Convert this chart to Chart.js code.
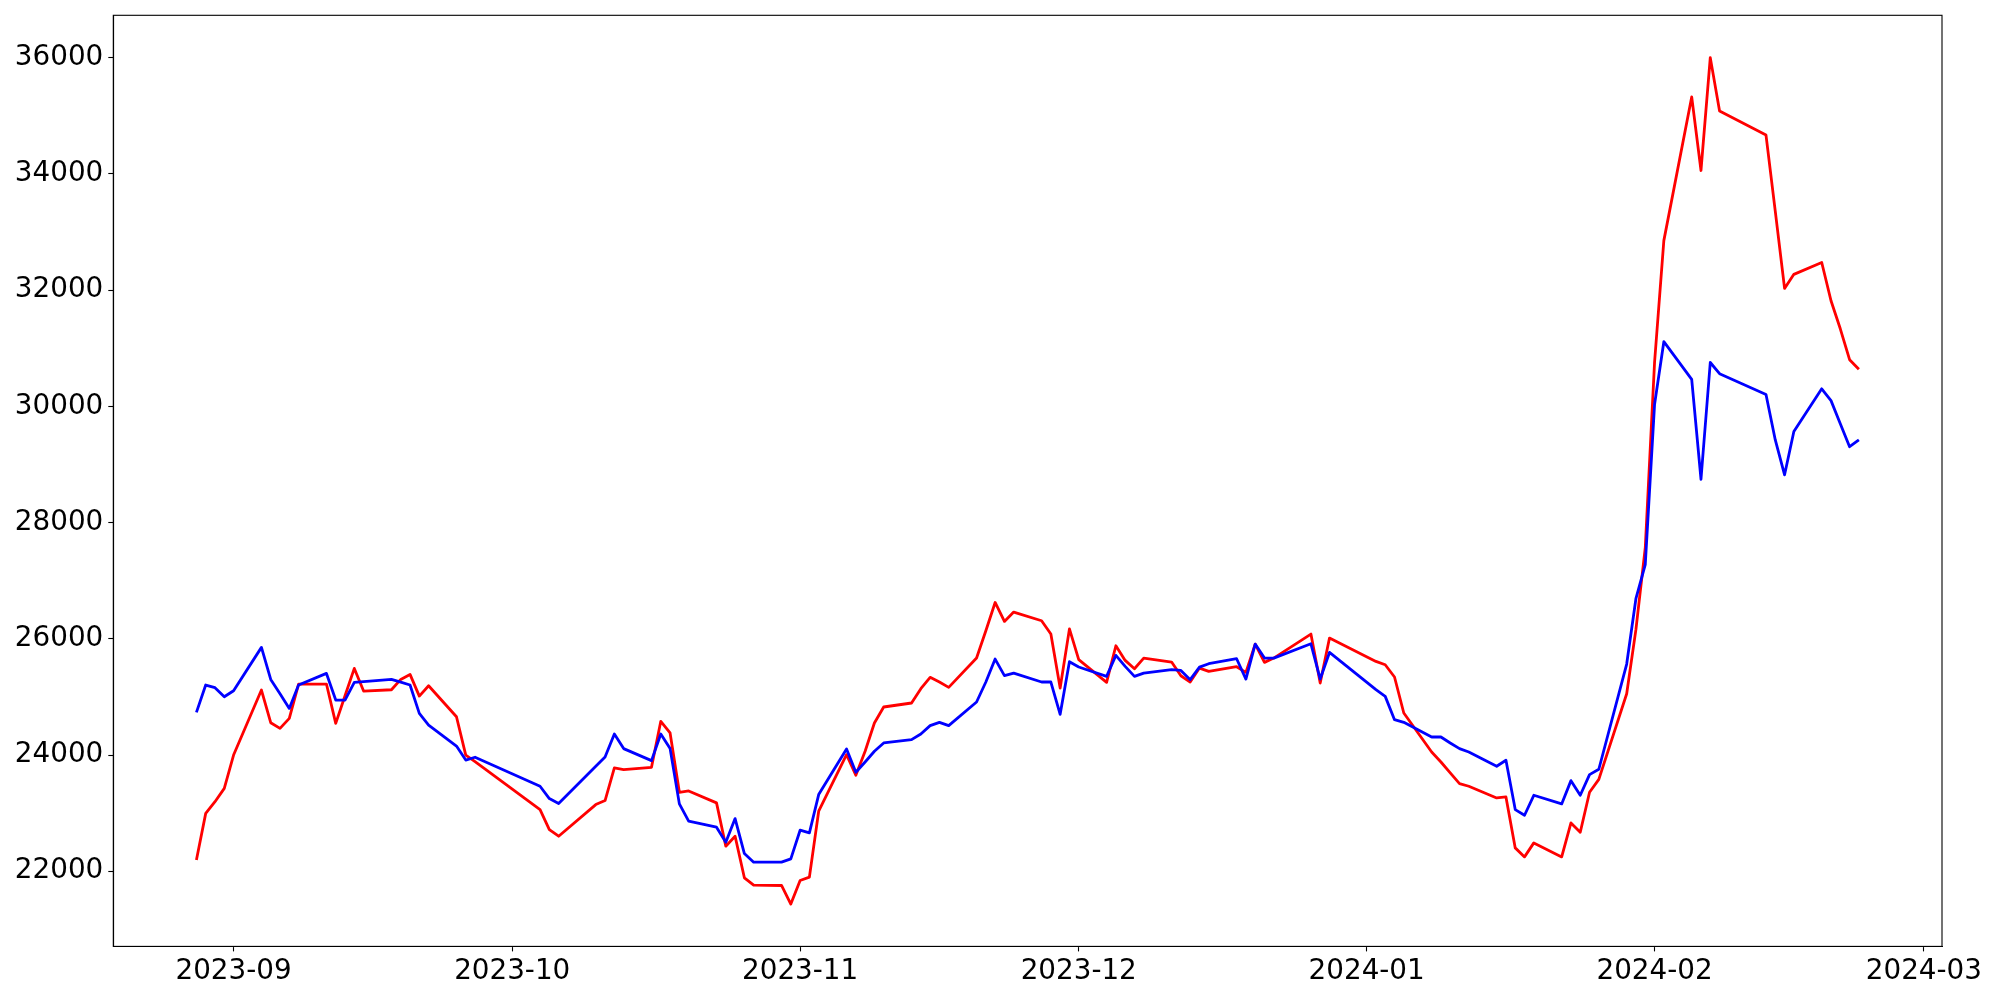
<!DOCTYPE html>
<html>
<head>
<meta charset="utf-8">
<script src="https://cdn.jsdelivr.net/npm/chart.js@4/dist/chart.umd.min.js"></script>
<style>
  html, body { margin: 0; padding: 0; background: #fff; }
  canvas { display: block; }
</style>
</head>
<body>
<canvas id="chart" width="2000" height="1000"></canvas>
<script>
// trading days (KRX calendar: Chuseok, Hangul day, year end and Seollal closed)
const dates = [
  "2023-08-28","2023-08-29","2023-08-30","2023-08-31","2023-09-01",
  "2023-09-04","2023-09-05","2023-09-06","2023-09-07","2023-09-08",
  "2023-09-11","2023-09-12","2023-09-13","2023-09-14","2023-09-15",
  "2023-09-18","2023-09-19","2023-09-20","2023-09-21","2023-09-22",
  "2023-09-25","2023-09-26","2023-09-27",
  "2023-10-04","2023-10-05","2023-10-06",
  "2023-10-10","2023-10-11","2023-10-12","2023-10-13",
  "2023-10-16","2023-10-17","2023-10-18","2023-10-19","2023-10-20",
  "2023-10-23","2023-10-24","2023-10-25","2023-10-26","2023-10-27",
  "2023-10-30","2023-10-31","2023-11-01","2023-11-02","2023-11-03",
  "2023-11-06","2023-11-07","2023-11-08","2023-11-09","2023-11-10",
  "2023-11-13","2023-11-14","2023-11-15","2023-11-16","2023-11-17",
  "2023-11-20","2023-11-21","2023-11-22","2023-11-23","2023-11-24",
  "2023-11-27","2023-11-28","2023-11-29","2023-11-30","2023-12-01",
  "2023-12-04","2023-12-05","2023-12-06","2023-12-07","2023-12-08",
  "2023-12-11","2023-12-12","2023-12-13","2023-12-14","2023-12-15",
  "2023-12-18","2023-12-19","2023-12-20","2023-12-21","2023-12-22",
  "2023-12-26","2023-12-27","2023-12-28",
  "2024-01-02","2024-01-03","2024-01-04","2024-01-05",
  "2024-01-08","2024-01-09","2024-01-10","2024-01-11","2024-01-12",
  "2024-01-15","2024-01-16","2024-01-17","2024-01-18","2024-01-19",
  "2024-01-22","2024-01-23","2024-01-24","2024-01-25","2024-01-26",
  "2024-01-29","2024-01-30","2024-01-31","2024-02-01","2024-02-02",
  "2024-02-05","2024-02-06","2024-02-07","2024-02-08",
  "2024-02-13","2024-02-14","2024-02-15","2024-02-16",
  "2024-02-19","2024-02-20","2024-02-21","2024-02-22","2024-02-23"
];

const redSeries = [
  22193, 22996, 23197, 23426, 23999,
  25118, 24556, 24458, 24630, 25221,
  25221, 24544, 25020, 25490, 25100,
  25123, 25301, 25387, 25014, 25192,
  24659, 23999, 23886,
  23061, 22717, 22603,
  23147, 23216, 23777, 23749,
  23789, 24580, 24379, 23359, 23382,
  23176, 22431, 22603, 21887, 21760,
  21755, 21435, 21841, 21898, 23033,
  24007, 23651, 24064, 24551, 24826,
  24895, 25141, 25336, 25256, 25164,
  25668, 26138, 26625, 26299, 26459,
  26310, 26081, 25153, 26170, 25640,
  25250, 25880, 25628, 25485, 25668,
  25599, 25364, 25255, 25496, 25439,
  25519, 25422, 25909, 25594, 25668,
  26081, 25238, 26012,
  25611, 25553, 25342, 24723,
  24052, 23880, 23691, 23508, 23462,
  23261, 23279, 22402, 22247, 22488,
  22247, 22832, 22671, 23359, 23580,
  25055, 26166, 27567, 30754, 32851,
  35324, 34058, 36000, 35082,
  34667, 33353, 32029, 32271,
  32474, 31817, 31334, 30803, 30639
];

const blueSeries = [
  24734, 25204, 25158, 25003, 25106,
  25852, 25301, 25055, 24802, 25204,
  25404, 24946, 24946, 25250, 25261,
  25301, 25255, 25204, 24716, 24516,
  24154, 23913, 23961,
  23462, 23250, 23164,
  23806, 23967, 24362, 24110,
  23903, 24362, 24110, 23159, 22861,
  22758, 22500, 22906, 22305, 22156,
  22156, 22213, 22706, 22660, 23319,
  24104, 23703, 23880, 24064, 24207,
  24264, 24362, 24505, 24562, 24505,
  24912, 25256, 25651, 25365, 25410,
  25256, 25256, 24700, 25605, 25515,
  25353, 25714, 25525, 25353, 25410,
  25468, 25456, 25296, 25513, 25571,
  25657, 25307, 25909, 25668, 25668,
  25914, 25307, 25765,
  25124, 25009, 24608, 24562,
  24310, 24310, 24207, 24110, 24052,
  23806, 23909, 23061, 22964, 23307,
  23158, 23559, 23307, 23663, 23755,
  25565, 26697, 27277, 30030, 31112,
  30465, 28745, 30754, 30561,
  30204, 29421, 28822, 29566,
  30301, 30098, 29701, 29305, 29421
];

const monthTicks = ["2023-09", "2023-10", "2023-11", "2023-12", "2024-01", "2024-02", "2024-03"];
const yTicks = [22000, 24000, 26000, 28000, 30000, 32000, 34000, 36000];

// days since epoch, so the x axis can stay linear (no date adapter offline)
function dayNum(s) {
  const [y, m, d] = s.split("-").map(Number);
  return Date.UTC(y, m - 1, d || 1) / 864e5;
}
function fmtMonth(v) {
  const d = new Date(v * 864e5);
  return d.getUTCFullYear() + "-" + String(d.getUTCMonth() + 1).padStart(2, "0");
}

const xs = dates.map(dayNum);
const xSpan = xs[xs.length - 1] - xs[0];
const allVals = redSeries.concat(blueSeries);
const yLo = Math.min(...allVals), yHi = Math.max(...allVals);
const ySpan = yHi - yLo;

const FONT = { family: "'DejaVu Sans', sans-serif", size: 27.8 };

// matplotlib style box round the plot
const frame = {
  id: "frame",
  afterDatasetsDraw(c) {
    const a = c.chartArea, ctx = c.ctx;
    ctx.save();
    ctx.strokeStyle = "#000";
    ctx.lineWidth = 1.1;
    ctx.strokeRect(a.left, a.top, a.right - a.left, a.bottom - a.top);
    ctx.restore();
  }
};

// fixed axis sizes, no extra label padding pushed into the layout
function fitX(s) {
  s.height = 53.6;
  s.paddingLeft = 0; s.paddingRight = 0;
}
function fitY(s) {
  s.width = 113.3;
  s.paddingTop = 0; s.paddingBottom = 0;
}

new Chart(document.getElementById("chart").getContext("2d"), {
  type: "line",
  data: {
    datasets: [
      {
        data: xs.map((x, i) => ({ x, y: redSeries[i] })),
        borderColor: "#ff0000",
        borderWidth: 2.8,
        order: 2,
      },
      {
        data: xs.map((x, i) => ({ x, y: blueSeries[i] })),
        borderColor: "#0000ff",
        borderWidth: 2.8,
        order: 1,
      },
    ],
  },
  options: {
    responsive: false,
    devicePixelRatio: 1,
    animation: false,
    layout: { padding: { top: 15.3, right: 58, left: 0, bottom: 0 } },
    elements: {
      point: { radius: 0 },
      line: { tension: 0, borderJoinStyle: "round", fill: false },
    },
    plugins: { legend: { display: false }, tooltip: { enabled: false } },
    scales: {
      x: {
        type: "linear",
        min: xs[0] - 0.05 * xSpan,
        max: xs[xs.length - 1] + 0.05 * xSpan,
        afterBuildTicks: s => { s.ticks = monthTicks.map(m => ({ value: dayNum(m) })); },
        afterFit: fitX,
        grid: { drawOnChartArea: false, drawTicks: true, tickLength: 5, tickColor: "#000", tickWidth: 1.1 },
        border: { display: true, color: "#000", width: 1.1 },
        ticks: {
          color: "#000",
          font: FONT,
          padding: 4,
          maxRotation: 0,
          autoSkip: false,
          callback: v => fmtMonth(v),
        },
      },
      y: {
        min: yLo - 0.05 * ySpan,
        max: yHi + 0.05 * ySpan,
        afterBuildTicks: s => { s.ticks = yTicks.map(v => ({ value: v })); },
        afterFit: fitY,
        grid: { drawOnChartArea: false, drawTicks: true, tickLength: 5, tickColor: "#000", tickWidth: 1.1 },
        border: { display: true, color: "#000", width: 1.1 },
        ticks: {
          color: "#000",
          font: FONT,
          padding: 5,
          autoSkip: false,
          callback: v => String(v),
        },
      },
    },
  },
  plugins: [frame],
});
</script>
</body>
</html>
